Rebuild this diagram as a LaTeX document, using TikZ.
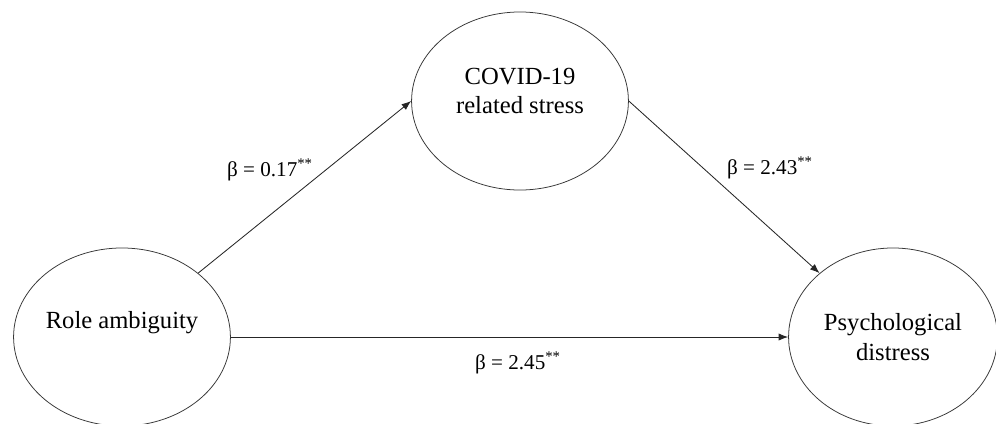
\documentclass[tikz,border=0pt]{standalone}
\usepackage{fontspec}
\setmainfont{Liberation Serif}
\usetikzlibrary{shapes.geometric, arrows.meta}
\definecolor{linegray}{RGB}{55,55,55}
\tikzset{
  var/.style={ellipse,draw=linegray,line width=0.55pt,inner sep=0pt,
              minimum width=5.42cm,minimum height=4.45cm,
              font=\fontsize{17.5}{21}\selectfont,align=center},
  arr/.style={-{Latex[length=2.4mm,width=1.8mm]},line width=0.6pt,color=black!85},
  coef/.style={font=\fontsize{15}{18}\selectfont},
}
\begin{document}
\begin{tikzpicture}[x=0.025cm,y=-0.025cm]
  \useasboundingbox (0,0) rectangle (996,423);
  \node[var,text depth=0.85cm](role) at (122,337){Role ambiguity};
  \node[var,text depth=0.5cm](stress) at (520,101){COVID-19\\related stress};
  \node[var,minimum width=5.22cm](psych) at (893,337){Psychological\\distress};
  \draw[arr](role.40)--(stress.west);
  \draw[arr](stress.east)--(psych.139);
  \draw[arr](role.east)--(psych.west);
  \node[coef](b1) at (270,170){β = 0.17\textsuperscript{**}};
  \node[coef](b2) at (770,168){β = 2.43\textsuperscript{**}};
  \node[coef](b3) at (518,363){β = 2.45\textsuperscript{**}};
\end{tikzpicture}
\end{document}
